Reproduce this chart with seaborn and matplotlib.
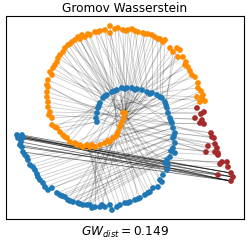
import pandas as pd
import seaborn as sns
import matplotlib
matplotlib.use("Agg")
import matplotlib.pyplot as plt

# point positions (pixel-like units, y grows downwards)
orange_x = [123, 125, 124, 122, 120, 118, 117, 113, 110, 105, 100, 95, 90, 87, 83, 80,
            75, 70, 67, 63, 60, 57, 52, 52, 50, 48, 48, 47, 47, 48, 48, 52, 53, 55, 58, 60,
            63, 65, 68, 72, 75, 78, 82, 85, 90, 95, 100, 105, 110, 110, 115, 118, 123, 128,
            132, 135, 138, 143, 148, 152, 155, 158, 163, 165, 170, 177, 180, 178, 183, 185,
            188, 192, 195, 198, 198, 201, 197, 202, 205, 200,
            # extra points filling the arm
            121, 115, 108, 92, 77, 65, 55, 49, 47, 50, 57, 70, 80, 88, 98, 126, 145, 160,
            173, 186, 190, 203]
orange_y = [113, 113, 118, 122, 127, 132, 135, 138, 142, 143, 145, 147, 147, 145, 147, 145,
            143, 142, 138, 135, 132, 128, 125, 118, 112, 107, 102, 97, 92, 87, 80, 75, 68, 65,
            58, 55, 52, 48, 45, 42, 40, 37, 35, 37, 35, 32, 31, 30, 26, 33, 29, 28, 30, 30,
            29, 31, 32, 33, 34, 35, 37, 39, 42, 40, 48, 48, 50, 57, 57, 65, 67, 75, 77, 83,
            88, 91, 97, 98, 101, 102,
            125, 137, 141, 145, 145, 137, 127, 115, 85, 72, 62, 44, 39, 34, 32, 31, 34, 39,
            52, 62, 71, 95]

blue_x = [97, 96, 97, 98, 100, 103, 107, 112, 117, 122, 127, 132, 137, 142, 147, 152, 157,
          162, 165, 167, 168, 170, 172, 173, 175, 173, 175, 173, 175, 170, 167, 168, 167, 163,
          162, 158, 153, 150, 145, 140, 135, 130, 125, 120, 117, 112, 110, 105, 100, 95, 90,
          87, 83, 78, 73, 68, 65, 60, 57, 52, 45, 43, 40, 38, 35, 33, 28, 27, 23, 22, 20, 23,
          18, 20, 17, 22,
          # extra points filling the arm
          99, 105, 115, 125, 135, 150, 160, 166, 171, 174, 171, 165, 160, 148, 138, 128, 102,
          92, 80, 70, 62, 48, 37, 30, 25, 21]
blue_y = [122, 118, 113, 108, 103, 98, 95, 92, 90, 88, 88, 88, 89, 90, 92, 93, 95, 98, 102,
          108, 113, 118, 123, 128, 133, 138, 143, 148, 153, 157, 160, 165, 170, 175, 182, 187,
          188, 192, 195, 198, 200, 202, 203, 205, 207, 210, 205, 207, 207, 207, 205, 205, 205,
          203, 202, 200, 197, 195, 193, 188, 187, 183, 180, 177, 170, 167, 160, 157, 152, 147,
          145, 138, 138, 137, 135, 135,
          106, 96, 91, 89, 90, 94, 97, 105, 121, 136, 151, 163, 180, 193, 199, 203, 205,
          208, 204, 201, 196, 190, 174, 165, 155, 142]

red_x = [197, 204, 201, 195, 202, 200, 204, 211, 212, 214, 208, 215, 217, 206, 215, 218, 218,
         220, 222, 227, 228, 218, 231, 233, 231]
red_y = [108, 112, 114, 118, 120, 123, 124, 133, 137, 138, 146, 144, 148, 152, 152, 153, 155,
         164, 162, 162, 167, 175, 173, 177, 181]

# coupling links (index pairs)
links_oo = [(44, 0), (46, 1), (48, 2), (50, 0), (52, 1), (54, 3), (56, 2), (58, 4), (60, 3),
            (62, 5), (64, 4), (66, 6), (20, 1), (23, 0), (26, 2), (29, 3), (32, 1), (35, 0),
            (67, 0), (69, 1), (71, 2), (73, 3), (75, 4), (77, 5), (79, 6),
            (37, 0), (39, 1), (41, 2), (43, 3), (45, 4), (47, 5), (49, 6), (51, 0), (53, 1),
            (55, 2), (57, 3), (59, 4), (61, 5), (63, 6), (65, 0), (90, 80), (93, 2),
            (96, 1), (99, 3), (100, 80), (101, 0)]
links_ob = [(36, 4), (37, 5), (38, 5), (39, 6), (40, 6), (41, 7), (42, 7), (43, 8), (45, 9),
            (47, 10), (49, 10), (51, 11), (53, 12), (55, 13), (57, 14), (59, 15), (61, 16),
            (63, 17), (65, 18), (21, 0), (22, 1), (24, 2), (25, 2), (27, 3), (28, 3), (30, 4),
            (31, 5), (33, 6), (34, 7), (68, 12), (70, 13), (72, 14), (74, 15), (76, 16),
            (78, 17), (7, 12), (8, 14), (9, 10), (10, 16), (11, 8), (12, 13), (13, 15),
            (14, 11), (15, 9), (16, 17), (17, 7), (18, 6), (19, 5), (86, 76), (87, 1),
            (88, 2), (89, 77), (91, 78), (92, 6), (94, 79), (95, 9), (97, 82), (98, 83)]
links_bo = [(33, 0), (34, 1), (35, 2), (36, 3), (37, 4), (38, 5), (39, 6), (40, 7), (41, 8),
            (42, 9), (43, 10), (44, 11), (45, 12), (46, 13), (47, 13), (48, 12), (49, 11),
            (50, 10), (18, 0), (20, 1), (22, 2), (24, 3), (26, 4), (28, 5), (30, 6), (32, 0),
            (51, 5), (52, 6), (53, 7), (54, 8), (55, 9), (88, 80), (89, 81), (90, 3),
            (91, 82), (92, 4), (93, 7)]
links_bb = [(51, 30), (52, 29), (53, 29), (54, 28), (55, 28), (56, 27), (57, 27), (58, 26),
            (59, 26), (60, 25), (61, 25), (62, 24), (63, 24), (64, 23), (65, 23), (66, 22),
            (67, 22), (1, 15), (3, 17), (5, 19), (7, 21), (9, 23), (94, 85), (95, 86),
            (96, 86), (97, 85), (98, 84), (99, 84)]
links_rb = [(0, 19), (1, 20), (2, 20), (3, 21), (4, 21), (5, 22), (6, 22), (7, 23), (8, 24),
            (9, 24), (10, 25), (11, 25), (12, 26), (13, 26), (14, 27), (15, 27), (16, 28),
            (17, 29), (18, 30), (19, 30), (20, 31), (21, 32), (7, 2), (9, 4), (11, 0),
            (13, 1), (15, 3)]
links_br = [(68, 24), (69, 23), (70, 24), (71, 22), (72, 23), (73, 24), (74, 24), (75, 22),
            (74, 23), (73, 22), (101, 24)]

df = pd.concat([
    pd.DataFrame({'x': orange_x, 'y': orange_y, 'cls': 'orange'}),
    pd.DataFrame({'x': blue_x, 'y': blue_y, 'cls': 'blue'}),
    pd.DataFrame({'x': red_x, 'y': red_y, 'cls': 'red'}),
], ignore_index=True)

pts = {'o': (orange_x, orange_y), 'b': (blue_x, blue_y), 'r': (red_x, red_y)}

fig = plt.figure(figsize=(2.49, 2.40), dpi=100)
ax = fig.add_axes([6 / 249, 1 - 219 / 240, 238 / 249, 203 / 240])


def draw_links(links, a, b, alpha):
    xa, ya = pts[a]
    xb, yb = pts[b]
    for i, j in links:
        ax.plot([xa[i], xb[j]], [ya[i], yb[j]], color='k', lw=0.6, alpha=alpha, zorder=1)


draw_links(links_oo, 'o', 'o', 0.2)
draw_links(links_ob, 'o', 'b', 0.2)
draw_links(links_bo, 'b', 'o', 0.2)
draw_links(links_bb, 'b', 'b', 0.2)
draw_links(links_rb, 'r', 'b', 0.2)
draw_links(links_br, 'b', 'r', 0.55)

sns.scatterplot(data=df, x='x', y='y', hue='cls',
                palette={'orange': 'darkorange', 'blue': 'tab:blue', 'red': 'brown'},
                s=17, linewidth=0, legend=False, ax=ax, zorder=3)

ax.set_xlim(6, 244)
ax.set_ylim(219, 16)
ax.set_xticks([])
ax.set_yticks([])
ax.set_ylabel('')
ax.set_xlabel('$GW_{dist} = 0.149$', fontsize=8.7)
ax.set_title('Gromov Wasserstein', fontsize=8.7, pad=3)

fig.savefig('out.png', dpi=100)
